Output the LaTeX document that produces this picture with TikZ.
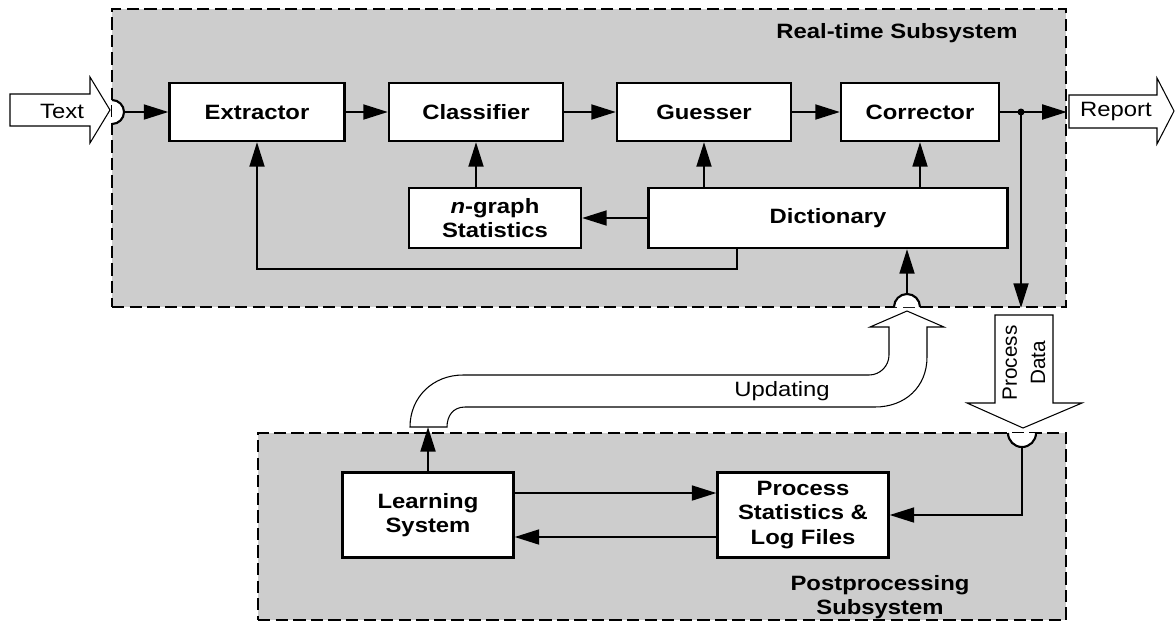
\documentclass[tikz,border=0pt]{standalone}
\usepackage{fontspec}
\setmainfont{Liberation Sans}[FakeStretch=1.15]
\newfontfamily\rotfont{Liberation Sans}
\usetikzlibrary{arrows.meta,calc}
\definecolor{subgray}{RGB}{205,205,205}

\begin{document}
\begin{tikzpicture}[x=0.02cm,y=-0.02cm]
	\tikzset{
		every node/.style={font=\fontsize{11.8}{14}\selectfont},
		% khoi chuc nang
		modbox/.style={draw,line width=1.3pt,fill=white,align=center,inner sep=0pt,
			font=\fontsize{11.8}{14}\selectfont\bfseries,minimum height=1.16cm},
		% he thong con
		subsys/.style={draw,dash pattern=on 7pt off 3pt,line width=1pt,fill=subgray,inner sep=0pt},
		wire/.style={line width=1.2pt},
		arr/.style={-{Triangle[length=14pt,width=8.5pt]}},
		% mui ten lon
		fat/.style={draw,line width=0.6pt,fill=white},
	}
	\useasboundingbox (0,0) rectangle (1175,623);
	%
	\node[subsys,minimum width=19.08cm,minimum height=5.96cm] (rts) at (589,158) {};
	\node[subsys,minimum width=16.16cm,minimum height=3.74cm] (pps) at (662,526.5) {};
	\node[font=\fontsize{11.8}{14}\selectfont\bfseries] (rtstitle) at (897,33) {Real-time Subsystem};
	\node[font=\fontsize{11.8}{14}\selectfont\bfseries,align=center] (ppstitle) at (880,597) {Postprocessing\\Subsystem};
	%
	\node[modbox,minimum width=3.5cm] (ext) at (257,112) {Extractor};
	\node[modbox,minimum width=3.48cm] (cla) at (476,112) {Classifier};
	\node[modbox,minimum width=3.48cm] (gue) at (704,112) {Guesser};
	\node[modbox,minimum width=3.16cm] (cor) at (920,112) {Corrector};
	\node[modbox,minimum width=3.44cm,minimum height=1.2cm] (ngr) at (495,218) {\textit{n}-graph\\Statistics};
	\node[modbox,minimum width=7.18cm,minimum height=1.2cm] (dic) at (828,218) {Dictionary};
	\node[modbox,minimum width=3.42cm,minimum height=1.7cm] (lea) at (428,515) {Learning\\System};
	\node[modbox,minimum width=3.42cm,minimum height=1.7cm] (sta) at (803,515) {Process\\Statistics \&\\Log Files};
	%
	% mui ten vao / ra
	\draw[fat] (10,94)--(90,94)--(90,77)--(110,110)--(90,143)--(90,126)--(10,126)--cycle;
	\node (txt) at (62,111) {Text};
	\draw[fat] (1069,95)--(1157,95)--(1157,78)--(1174,111)--(1157,144)--(1157,128)--(1069,128)--cycle;
	\node (rep) at (1116,112) {Report};
	\draw[fat] (995,315)--(1053,315)--(1053,403)--(1082,403)--(1023,428)--(967,403)--(995,403)--cycle;
	\node[rotate=90,align=center,font=\rotfont\fontsize{11.8}{16}\selectfont] (pdat) at (1024,363) {Process\\Data};
	\draw[fat] (410,427) .. controls (410,397) and (433,375) .. (463,375) -- (869,375)
		.. controls (880,375) and (889,366) .. (889,355) -- (889,327) -- (870,327) -- (907,311)
		-- (944,327) -- (927,327) -- (927,357) .. controls (927,387) and (905,407) .. (875,407)
		-- (465,407) .. controls (453,407) and (447,416) .. (447,427) -- cycle;
	\node (upd) at (782,391) {Updating};
	%
	% ban nguyet
	\fill[white] (112,100) arc[start angle=90,end angle=-90,radius=0.24cm] -- cycle;
	\draw[wire] (112,100) arc[start angle=90,end angle=-90,radius=0.24cm];
	\fill[white] (894,307) arc[start angle=180,end angle=0,radius=0.26cm] -- cycle;
	\draw[wire] (894,307) arc[start angle=180,end angle=0,radius=0.26cm];
	\fill[white] (1008,433) arc[start angle=180,end angle=360,radius=0.28cm] -- cycle;
	\draw[wire] (1008,433) arc[start angle=180,end angle=360,radius=0.28cm];
	\coordinate (jin) at (124,112);
	\coordinate (jdic) at (907,294);
	\coordinate (jpro) at (1022,447);
	\coordinate (spl) at (1021,112);
	\coordinate (lp) at (257,269);
	\coordinate (upt) at (428,427);
	%
	\draw[wire,arr] (jin) -- (ext.west);
	\draw[wire,arr] (ext.east) -- (cla.west);
	\draw[wire,arr] (cla.east) -- (gue.west);
	\draw[wire,arr] (gue.east) -- (cor.west);
	\draw[wire] (cor.east) -- (spl);
	\draw[wire,arr] (spl) -- (spl -| rts.east);
	\draw[wire,arr] (spl) -- (spl |- rts.south);
	\fill (spl) circle (0.07cm);
	\draw[wire,arr] (gue.south |- dic.north) -- (gue.south);
	\draw[wire,arr] (cor.south |- dic.north) -- (cor.south);
	\draw[wire,arr] (cla.south |- ngr.north) -- (cla.south);
	\draw[wire,arr] (dic.west) -- (ngr.east);
	\draw[wire,arr] ([xshift=1.8cm]dic.south west) |- (lp) -- (ext.south);
	\draw[wire,arr] (jdic) -- (jdic |- dic.south);
	\draw[wire,arr] (jpro) |- (sta.east);
	\draw[wire,arr] ([yshift=0.44cm]lea.east) -- ([yshift=0.44cm]sta.west);
	\draw[wire,arr] ([yshift=-0.44cm]sta.west) -- ([yshift=-0.44cm]lea.east);
	\draw[wire,arr] (lea.north) -- (upt);
\end{tikzpicture}
\end{document}
